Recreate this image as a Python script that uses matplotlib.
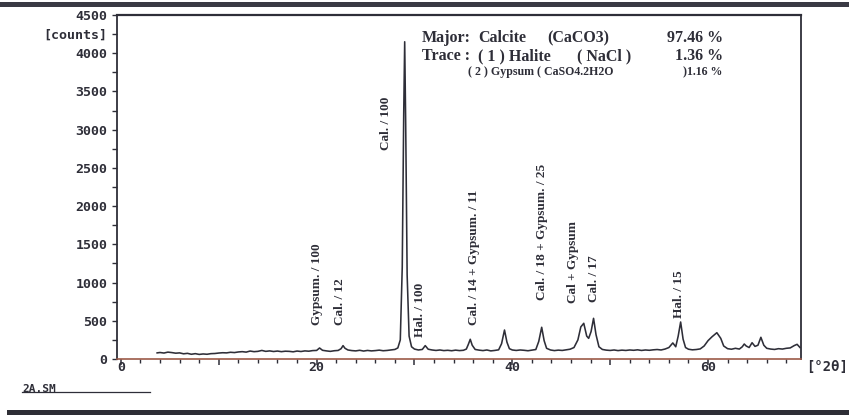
import matplotlib
matplotlib.use("Agg")
import matplotlib.pyplot as plt
from matplotlib.lines import Line2D
from matplotlib.patches import Rectangle

# ---------------- data ----------------
two_theta = [3.7, 4.0, 4.4, 4.8, 5.2, 5.6, 6.0, 6.4, 6.8, 7.2, 7.6, 8.0, 8.4, 8.8, 9.2, 9.6,
             10.0, 10.4, 10.8, 11.2, 11.6, 12.0, 12.4, 12.8, 13.2, 13.6, 14.0, 14.4, 14.8,
             15.2, 15.6, 16.0, 16.4, 16.8, 17.2, 17.6, 18.0, 18.4, 18.8, 19.2, 19.6, 20.0,
             20.3, 20.6, 21.0, 21.4, 21.8, 22.2, 22.5, 22.7, 22.9, 23.2, 23.6, 24.0, 24.4,
             24.8, 25.2, 25.6, 26.0, 26.4, 26.8, 27.2, 27.6, 28.0, 28.3, 28.55, 28.75, 28.9,
             29.0, 29.1, 29.25, 29.45, 29.7, 30.0, 30.4, 30.8, 31.1, 31.4, 31.8, 32.2, 32.6,
             33.0, 33.4, 33.8, 34.2, 34.6, 35.0, 35.3, 35.5, 35.7, 35.9, 36.2, 36.6, 37.0,
             37.4, 37.8, 38.2, 38.6, 38.9, 39.2, 39.45, 39.7, 40.0, 40.4, 40.8, 41.2, 41.6,
             42.0, 42.4, 42.7, 43.0, 43.25, 43.5, 43.9, 44.3, 44.7, 45.1, 45.5, 45.9, 46.3,
             46.7, 47.0, 47.3, 47.6, 47.8, 48.05, 48.3, 48.55, 48.85, 49.2, 49.6, 50.0, 50.4,
             50.8, 51.2, 51.6, 52.0, 52.4, 52.8, 53.2, 53.6, 54.0, 54.4, 54.8, 55.2, 55.6,
             56.0, 56.4, 56.7, 56.95, 57.2, 57.45, 57.7, 58.0, 58.4, 58.8, 59.2, 59.6, 60.0,
             60.4, 60.9, 61.3, 61.6, 62.0, 62.4, 62.8, 63.2, 63.5, 63.7, 63.9, 64.2, 64.5,
             64.8, 65.1, 65.4, 65.7, 66.0, 66.4, 66.8, 67.2, 67.6, 68.0, 68.4, 68.8, 69.1,
             69.4]
counts = [80, 85, 78, 90, 84, 76, 80, 68, 74, 62, 70, 60, 66, 62, 70, 72,
          78, 82, 80, 88, 84, 92, 96, 90, 104, 96, 100, 112, 100,
          106, 98, 104, 96, 102, 100, 94, 104, 98, 106, 102, 110, 112,
          144, 114, 106, 100, 108, 112, 135, 175, 140, 118, 110, 106, 114,
          104, 112, 106, 110, 116, 108, 112, 118, 125, 145, 250, 1200, 3200,
          4150, 3100, 1100, 300, 160, 130, 118, 125, 175, 128, 118, 112, 118,
          110, 114, 108, 116, 110, 114, 130, 190, 258, 180, 125, 116, 110,
          118, 106, 112, 120, 200, 379, 220, 135, 118, 112, 118, 114, 108,
          116, 124, 230, 415, 240, 140, 118, 110, 116, 112, 120, 128, 150,
          250, 420, 467, 300, 270, 360, 532, 320, 160, 125, 116, 112, 118,
          110, 116, 112, 118, 114, 120, 112, 118, 114, 120, 124, 118, 130,
          150, 210, 160, 300, 484, 260, 150, 128, 120, 124, 132, 170, 240,
          290, 344, 270, 170, 135, 128, 140, 130, 160, 196, 170, 150, 213,
          165, 180, 284, 180, 140, 130, 125, 135, 130, 140, 145, 175, 192,
          150]

peak_labels = ["Gypsum. / 100", "Cal. / 12", "Cal. / 100", "Hal. / 100",
               "Cal. / 14 + Gypsum. / 11", "Cal. / 18 + Gypsum. / 25",
               "Cal + Gypsum", "Cal. / 17", "Hal. / 15"]
label_x = [20.0, 22.4, 27.1, 30.6, 36.1, 43.0, 46.2, 48.3, 57.0]
label_y = [445, 445, 2734, 288, 445, 772, 732, 745, 536]

y_ticks = [0, 500, 1000, 1500, 2000, 2500, 3000, 3500, 4000, 4250, 4500]
y_ticklabels = ["0", "500", "1000", "1500", "2000", "2500", "3000", "3500", "4000",
                "[counts]", "4500"]
x_ticks = [0, 10, 20, 30, 40, 50, 60]
x_ticklabels = ["0", "", "20", "", "40", "", "60"]

info_rows = [("Major:", "Calcite", "(CaCO3)", "97.46 %"),
             ("Trace :", "( 1 ) Halite", "( NaCl )", "1.36 %")]
info_row3 = ("( 2 ) Gypsum ( CaSO4.2H2O", ")1.16 %")

# ---------------- figure ----------------
W, H = 849, 415
fig = plt.figure(figsize=(W / 100, H / 100), dpi=100)
fig.patch.set_facecolor("white")

def fx(px):
    return px / W

def fy(py):
    return 1 - py / H

ax_l, ax_r, ax_t, ax_b = 117, 801, 15, 359
ax = fig.add_axes([fx(ax_l), fy(ax_b), fx(ax_r - ax_l), (ax_b - ax_t) / H])

ink = "#2e2e38"
ax.plot(two_theta, counts, color=ink, lw=1.15, solid_joinstyle="round")
ax.set_xlim(-0.4, 69.5)
ax.set_ylim(0, 4500)

for side in ["left", "top", "right"]:
    ax.spines[side].set_color(ink)
    ax.spines[side].set_linewidth(1.3)
ax.spines["top"].set_linewidth(1.6)
ax.spines["bottom"].set_color("#9c5a48")
ax.spines["bottom"].set_linewidth(1.2)

mono = {"family": "DejaVu Sans Mono", "weight": "bold", "size": 9.5}
ax.set_yticks(y_ticks)
ax.set_yticklabels(y_ticklabels, fontdict=mono, color=ink)
ax.set_yticks([250, 750, 1250, 1750, 2250, 2750, 3250, 3750], minor=True)
ax.tick_params(axis="y", which="both", direction="out", length=3.5, width=1.0,
               color=ink, pad=3.5)

ax.set_xticks(x_ticks)
ax.set_xticklabels(x_ticklabels, fontdict=mono, color=ink)
ax.set_xticks([v for v in range(2, 70, 2) if v % 10 != 0], minor=True)
ax.tick_params(axis="x", which="major", direction="out", length=4.5, width=1.1,
               color=ink, pad=-3)
ax.tick_params(axis="x", which="minor", direction="out", length=3, width=1.0,
               color=ink)

serif_b = {"family": "Liberation Serif", "weight": "bold"}
for txt, xv, yv in zip(peak_labels, label_x, label_y):
    ax.text(xv, yv, txt, rotation=90, ha="center", va="bottom", fontsize=9.5,
            color=ink, **serif_b)

# info block
col_sets = [[422, 478, 547], [422, 478, 577]]
for row, base, cols in zip(info_rows, [42, 60], col_sets):
    for txt, cx in zip(row[:3], cols):
        fig.text(fx(cx), fy(base), txt, ha="left", va="baseline", fontsize=11.5,
                 color=ink, **serif_b)
    fig.text(fx(723), fy(base), row[3], ha="right", va="baseline", fontsize=11.5,
             color=ink, **serif_b)
fig.text(fx(468), fy(75), info_row3[0], ha="left", va="baseline", fontsize=8.6,
         color=ink, **serif_b)
fig.text(fx(722), fy(75), info_row3[1], ha="right", va="baseline", fontsize=8.6,
         color=ink, **serif_b)

# axis unit at right
fig.text(fx(806), fy(367), "[°2θ]", ha="left", va="center", fontsize=10,
         color=ink, family="DejaVu Sans Mono", weight="bold")

# file tag bottom left
fig.text(fx(22), fy(392), "2A.SM", ha="left", va="baseline", fontsize=8,
         color=ink, family="DejaVu Sans Mono", weight="bold")
fig.add_artist(Line2D([fx(22), fx(150)], [fy(392), fy(392)], color=ink, lw=0.9))

# page borders (scan)
fig.add_artist(Rectangle((0, fy(7)), 1, 5 / H, transform=fig.transFigure,
                         facecolor="#3a3a44", edgecolor="none"))
fig.add_artist(Rectangle((fx(7), 0), 1, 5 / H, transform=fig.transFigure,
                         facecolor="#2e2e36", edgecolor="none"))

fig.savefig("out.png", dpi=100, facecolor="white")
